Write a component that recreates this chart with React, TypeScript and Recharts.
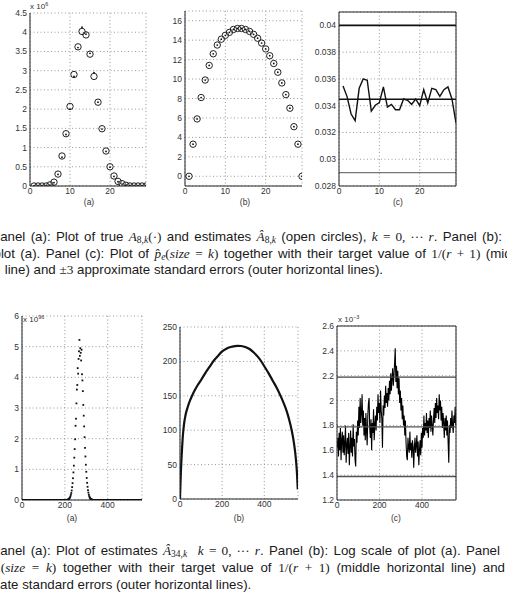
import React from 'react';
import { ComposedChart, Scatter, Line, XAxis, YAxis, CartesianGrid, ReferenceLine } from 'recharts';

// ---------- top row (r = 28, plotted at positions 1..29) ----------
const topK = [1, 2, 3, 4, 5, 6, 7, 8, 9, 10, 11, 12, 13, 14, 15, 16, 17, 18, 19, 20, 21, 22, 23, 24, 25, 26, 27, 28, 29];
const topEstimates = [0, 0, 0, 0, 0.03, 0.1, 0.31, 0.78, 1.36, 2.07, 2.9, 3.62, 4.02, 3.93, 3.43, 2.85, 2.18, 1.49, 0.91, 0.5, 0.26, 0.12, 0.06, 0.02, 0, 0, 0, 0, 0];
const topTrue = [0, 0, 0, 0, 0.02, 0.09, 0.3, 0.75, 1.34, 2.0, 2.85, 3.6, 4.13, 3.95, 3.45, 2.95, 2.18, 1.48, 0.9, 0.49, 0.25, 0.11, 0.05, 0.02, 0, 0, 0, 0, 0];
const topLog = [0, 3.3, 5.9, 8.1, 9.9, 11.4, 12.6, 13.5, 14.1, 14.5, 14.8, 15.1, 15.2, 15.2, 15.1, 14.9, 14.6, 14.2, 13.7, 13.1, 12.4, 11.6, 10.7, 9.6, 8.4, 7.0, 5.1, 3.3, 0];
const topProb = [0.03547, 0.03468, 0.03338, 0.03288, 0.0353, 0.036, 0.0359, 0.0336, 0.03403, 0.03423, 0.0354, 0.0339, 0.0341, 0.0337, 0.0337, 0.0345, 0.0344, 0.0341, 0.0345, 0.034, 0.0352, 0.0342, 0.0353, 0.0352, 0.0347, 0.0352, 0.0354, 0.0345, 0.0327];
const topTarget = 0.03448;
const topUpper = 0.04;
const topLower = 0.029;

// ---------- bottom row (r = 558) ----------
const botBellStart = 210; // bell values at k = 210, 212, ..., 330 (x 10^96)
const botBell = [0.004, 0.007, 0.012, 0.018, 0.026, 0.04, 0.06, 0.085, 0.12, 0.17, 0.23, 0.31, 0.42, 0.55, 0.71, 0.9, 1.12, 1.38, 1.66, 1.98, 2.42, 2.65, 3.15, 3.6, 3.75, 4.3, 4.12, 4.6, 4.85, 5.22, 4.7, 4.95, 4.8, 4.55, 4.9, 4.1, 3.9, 3.55, 3.1, 2.75, 2.4, 2.05, 1.7, 1.42, 1.15, 0.92, 0.72, 0.56, 0.43, 0.32, 0.24, 0.17, 0.12, 0.085, 0.06, 0.04, 0.027, 0.018, 0.012, 0.007, 0.004];
const botLastK = 559;

const botLogK = [0, 2, 4, 6, 8, 10, 12, 15, 18, 21, 25, 30, 35, 40, 50, 60, 70, 85, 100, 120, 140, 160, 180, 200, 220, 240, 260, 275, 290, 310, 330, 350, 370, 390, 400, 420, 440, 460, 480, 500, 510, 520, 530, 540, 548, 554, 559];
const botLogV = [0, 20, 38, 52, 64, 75, 85, 97, 106, 113, 120, 127, 132, 137, 145, 152, 158, 166, 173, 183, 192, 201, 208, 214.5, 218.5, 221, 222.3, 222.7, 222.4, 221, 218, 213, 206.5, 198, 193, 183, 172, 161, 148, 133, 124, 113, 100, 83, 64, 43, 14];

const botProbStep = 3; // k = 1, 4, 7, ..., 559 (x 10^-3)
const botProb = [
  1.62, 1.70, 1.55, 1.74, 1.60, 1.78, 1.52, 1.68, 1.75, 1.58,
  1.72, 1.56, 1.66, 1.80, 1.50, 1.64, 1.70, 1.57, 1.74, 1.48,
  1.62, 1.76, 1.58, 1.70, 1.55, 1.81, 1.63, 1.69, 1.52, 1.47,
  1.75, 1.66, 1.84, 1.72, 1.95, 1.78, 2.02, 1.82, 1.90, 2.05,
  1.80, 1.92, 1.72, 1.86, 1.68, 1.90, 1.75, 1.64, 1.88, 1.98,
  2.02, 1.78, 1.70, 1.85, 1.60, 1.82, 1.74, 1.93, 1.68, 1.80,
  1.88, 1.76, 1.95, 1.84, 2.05, 1.90, 1.98, 1.82, 2.08, 1.92,
  1.85, 1.62, 1.96, 1.88, 2.04, 1.94, 2.12, 1.98, 2.06, 1.95,
  2.10, 2.00, 2.16, 2.05, 2.22, 2.08, 2.18, 2.26, 2.12, 2.20,
  2.30, 2.42, 2.15, 2.28, 2.10, 2.24, 2.05, 2.18, 1.98, 2.08,
  1.92, 2.02, 1.85, 1.96, 1.80, 1.88, 1.72, 1.84, 1.66, 1.55,
  1.52, 1.70, 1.62, 1.58, 1.75, 1.60, 1.66, 1.54, 1.68, 1.63,
  1.46, 1.62, 1.70, 1.58, 1.64, 1.72, 1.55, 1.67, 1.48, 1.60,
  1.68, 1.56, 1.74, 1.62, 1.78, 1.70, 1.88, 1.72, 1.82, 1.76,
  1.90, 1.74, 1.84, 1.70, 1.86, 1.78, 1.92, 1.75, 1.88, 1.80,
  1.72, 1.84, 1.94, 1.82, 1.98, 1.86, 2.02, 1.90, 1.96, 1.85,
  2.05, 1.92, 2.00, 1.84, 1.95, 1.78, 1.90, 1.82, 1.70, 1.86,
  1.76, 1.88, 1.72, 1.84, 1.66, 1.50, 1.80, 1.74, 1.86, 1.78,
  1.92, 1.80, 1.74, 1.88, 1.82, 1.95, 1.80,
];
const botTarget = 1.789;
const botUpper = 2.189;
const botLower = 1.389;

// tick labels
const topXTicks = [0, 10, 20];
const topAYTicks = [0, 0.5, 1, 1.5, 2, 2.5, 3, 3.5, 4, 4.5];
const topBYTicks = [0, 2, 4, 6, 8, 10, 12, 14, 16];
const topCYTicks = [0.028, 0.03, 0.032, 0.034, 0.036, 0.038, 0.04];
const botXTicks = [0, 200, 400];
const botAYTicks = [0, 1, 2, 3, 4, 5, 6];
const botBYTicks = [0, 50, 100, 150, 200, 250];
const botCYTicks = [1.2, 1.4, 1.6, 1.8, 2, 2.2, 2.4, 2.6];

// ---------- tables ----------
const tableA = topK.map((k, i) => ({ k, v: topEstimates[i] }));
const tableATrue = topK.map((k, i) => ({ k, v: topTrue[i] }));
const tableB = topK.map((k, i) => ({ k, v: topLog[i] }));
const tableC = topK.map((k, i) => ({ k, v: topProb[i] }));

const botBellEnd = botBellStart + 2 * (botBell.length - 1);
const tableBotA: { k: number; v: number }[] = [];
for (let k = 1; k < botBellStart; k++) tableBotA.push({ k, v: 0 });
botBell.forEach((v, i) => tableBotA.push({ k: botBellStart + 2 * i, v }));
for (let k = botBellEnd + 1; k <= botLastK; k++) tableBotA.push({ k, v: 0 });
const tableBotB = botLogK.map((k, i) => ({ k, v: botLogV[i] }));
const tableBotC = botProb.map((v, i) => ({ k: 1 + botProbStep * i, v }));

const FONT = '"Liberation Sans", Arial, Helvetica, sans-serif';
const SERIF = '"Liberation Serif", "DejaVu Serif", serif';
const tickStyle = { fontSize: 8.5, fill: '#333', fontFamily: FONT };

const fmt = (v: number) => String(Number(v.toFixed(4)));

function Panel(props: any) {
  const { x, y, w, h, xDomain, xTicks, yDomain, yTicks, box, children } = props;
  const ML = 44, MT = 8, MR = 8, XH = 20;
  return (
    <div style={{ position: 'absolute', left: x - ML, top: y - MT }}>
      <ComposedChart width={w + ML + MR} height={h + MT + XH} margin={{ top: MT, right: MR, bottom: 0, left: 0 }}>
        <CartesianGrid stroke="#999" strokeDasharray="1 2.5" />
        <XAxis type="number" dataKey="k" domain={xDomain} ticks={xTicks} allowDataOverflow interval={0}
          height={XH} tickLine={false} tickSize={0} tickMargin={2} axisLine={{ stroke: '#222' }} tick={tickStyle} />
        <YAxis type="number" dataKey="v" domain={yDomain} ticks={yTicks} allowDataOverflow interval={0}
          width={ML} tickLine={false} tickSize={0} tickMargin={3} axisLine={{ stroke: '#222' }} tick={tickStyle} tickFormatter={fmt} />
        {children}
        {box && <ReferenceLine x={xDomain[1]} stroke="#222" strokeWidth={1} />}
        {box && <ReferenceLine y={yDomain[1]} stroke="#222" strokeWidth={1} />}
      </ComposedChart>
    </div>
  );
}

const openCircle = (p: any) => <circle cx={p.cx} cy={p.cy} r={3.2} fill="none" stroke="#222" strokeWidth={1} />;
const centerDot = (p: any) => <circle cx={p.cx} cy={p.cy} r={0.9} fill="#111" />;
const smallDot = (p: any) => <rect x={p.cx - 0.9} y={p.cy - 0.9} width={1.8} height={1.8} fill="#111" />;

const M = ({ children }: any) => <span style={{ fontFamily: SERIF, fontStyle: 'italic' }}>{children}</span>;
const S = ({ children }: any) => <span style={{ fontFamily: SERIF }}>{children}</span>;
const Sub = ({ children }: any) => <sub style={{ fontFamily: SERIF, fontSize: 9.5, verticalAlign: '-2px', lineHeight: 0 }}>{children}</sub>;

const lineStyle = (left: number, top: number, width?: number, ws = 0): React.CSSProperties => ({
  position: 'absolute', left, top, width, fontFamily: FONT, fontSize: 13.3,
  lineHeight: '16px', color: '#1a1a1a', wordSpacing: ws,
  whiteSpace: width ? 'normal' : 'nowrap',
  textAlign: width ? 'justify' : 'left',
  textAlignLast: width ? 'justify' : 'auto',
});

const Label = ({ x, y, children }: any) => (
  <div style={{ position: 'absolute', left: x - 20, top: y - 5, width: 40, textAlign: 'center', fontFamily: FONT, fontSize: 8.5, color: '#333', lineHeight: '10px' }}>{children}</div>
);
const Expo = ({ x, y, base, sup }: any) => (
  <div style={{ position: 'absolute', left: x, top: y, fontFamily: FONT, fontSize: 8, color: '#333', lineHeight: '10px', whiteSpace: 'nowrap' }}>
    {base}<sup style={{ fontSize: 5.5, verticalAlign: '3px', lineHeight: 0 }}>{sup}</sup>
  </div>
);

export default function App() {
  return (
    <div style={{ position: 'fixed', left: 0, top: 0, width: 507, height: 615, overflow: 'hidden', background: '#fff' }}>
      {/* top row */}
      <Panel x={30} y={13} w={116} h={173} xDomain={[0, 29]} xTicks={topXTicks} yDomain={[0, 4.5]} yTicks={topAYTicks}>
        <Scatter data={tableA} dataKey="v" shape={openCircle} isAnimationActive={false} />
        <Scatter data={tableATrue} dataKey="v" shape={centerDot} isAnimationActive={false} />
      </Panel>
      <Panel x={185} y={11} w={117} h={175} xDomain={[0, 29]} xTicks={topXTicks} yDomain={[-1, 17]} yTicks={topBYTicks}>
        <Scatter data={tableB} dataKey="v" shape={openCircle} isAnimationActive={false} />
        <Scatter data={tableB} dataKey="v" shape={centerDot} isAnimationActive={false} />
      </Panel>
      <Panel x={339} y={12} w={117} h={174} xDomain={[0, 29]} xTicks={topXTicks} yDomain={[0.028, 0.041]} yTicks={topCYTicks} box>
        <ReferenceLine y={topUpper} stroke="#111" strokeWidth={1.6} />
        <ReferenceLine y={topTarget} stroke="#111" strokeWidth={1.6} />
        <ReferenceLine y={topLower} stroke="#777" strokeWidth={1.2} />
        <Line data={tableC} dataKey="v" type="linear" stroke="#111" strokeWidth={1.4} dot={false} isAnimationActive={false} />
      </Panel>
      <Expo x={30} y={2} base="x 10" sup="6" />
      <Label x={89} y={202}>(a)</Label>
      <Label x={245} y={202}>(b)</Label>
      <Label x={398} y={202}>(c)</Label>

      {/* top caption */}
      <div style={lineStyle(-8.7, 229, 510.7)}>
        Panel (a): Plot of true <M>A</M><Sub>8,<i>k</i></Sub><S>(·)</S> and estimates <M>Â</M><Sub>8,<i>k</i></Sub> (open circles), <M>k</M> <S>= 0, ··· </S><M>r</M>. Panel (b):
      </div>
      <div style={lineStyle(-6.5, 245.5, undefined, 1.7)}>
        plot (a). Panel (c): Plot of <M>p̂</M><Sub><i>e</i></Sub><S>(</S><M>size</M> <S>=</S> <M>k</M><S>)</S> together with their target value of <S>1/(</S><M>r</M> <S>+ 1)</S> (middle horizontal
      </div>
      <div style={lineStyle(4.7, 261.5)}>
        line) and <S>±3</S> approximate standard errors (outer horizontal lines).
      </div>

      {/* bottom row */}
      <Panel x={22} y={316} w={120} h={184} xDomain={[0, 560]} xTicks={botXTicks} yDomain={[0, 6]} yTicks={botAYTicks}>
        <Scatter data={tableBotA} dataKey="v" shape={smallDot} isAnimationActive={false} />
      </Panel>
      <Panel x={180} y={327} w={118} h={172} xDomain={[0, 560]} xTicks={botXTicks} yDomain={[0, 250]} yTicks={botBYTicks}>
        <Line data={tableBotB} dataKey="v" type="monotone" stroke="#111" strokeWidth={2.2} dot={false} isAnimationActive={false} />
      </Panel>
      <Panel x={337} y={326} w={119} h={174} xDomain={[0, 560]} xTicks={botXTicks} yDomain={[1.2, 2.6]} yTicks={botCYTicks} box>
        <Line data={tableBotC} dataKey="v" type="linear" stroke="#000" strokeWidth={1.1} dot={false} isAnimationActive={false} />
        <ReferenceLine y={botUpper} stroke="#444" strokeWidth={1.3} />
        <ReferenceLine y={botTarget} stroke="#555" strokeWidth={1.3} />
        <ReferenceLine y={botLower} stroke="#555" strokeWidth={1.3} />
      </Panel>
      <Expo x={23} y={315} base="x 10" sup="96" />
      <Expo x={338} y={315} base="x 10" sup="−3" />
      <Label x={72} y={518}>(a)</Label>
      <Label x={239} y={518}>(b)</Label>
      <Label x={396} y={518}>(c)</Label>

      {/* bottom caption */}
      <div style={lineStyle(-8.7, 543, 508.7)}>
        Panel (a): Plot of estimates <M>Â</M><Sub>34,<i>k</i></Sub>&nbsp; <M>k</M> <S>= 0, ··· </S><M>r</M>. Panel (b): Log scale of plot (a). Panel
      </div>
      <div style={lineStyle(0.7, 559.5, 504.3)}>
        <S>(</S><M>size</M> <S>=</S> <M>k</M><S>)</S> together with their target value of <S>1/(</S><M>r</M> <S>+ 1)</S> (middle horizontal line) and
      </div>
      <div style={lineStyle(0, 577)}>
        ate standard errors (outer horizontal lines).
      </div>
    </div>
  );
}
